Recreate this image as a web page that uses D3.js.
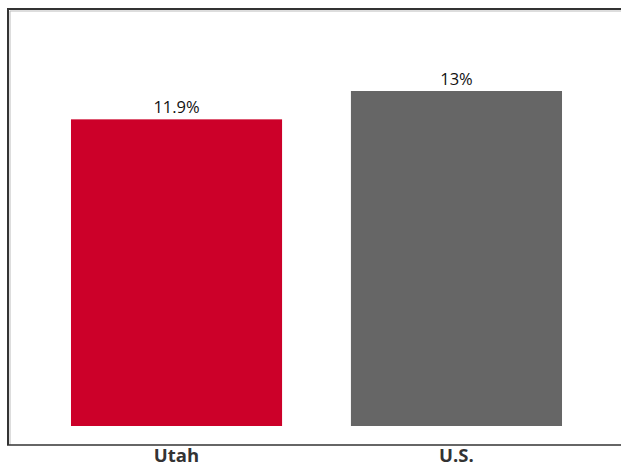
<!DOCTYPE html>
<html><head><meta charset="utf-8">
<script src="https://cdn.jsdelivr.net/npm/d3@7"></script>
<style>body{margin:0;background:#fff;}svg{display:block;}</style>
</head><body>
<script>
const categories = ["Utah", "U.S."];
const values = [11.9, 13];
const valueLabels = ["11.9%", "13%"];
const colors = ["#cc0029", "#666666"];

const W = 621, H = 467;
const svg = d3.select("body").append("svg").attr("width", W).attr("height", H);

const x = d3.scaleBand().domain(categories).range([8, 625]).paddingInner(0.246).paddingOuter(0.225);
const y = d3.scaleLinear().domain([0, 16]).range([426, 13.7]);

// frame
svg.append("path").attr("d", "M8,445 L8,9 L630,9").attr("fill", "none").attr("stroke", "#333").attr("stroke-width", 2);
svg.append("path").attr("d", "M10,445 L10,11 L630,11").attr("fill", "none").attr("stroke", "#bbb").attr("stroke-width", 1);
svg.append("line").attr("x1", 7).attr("x2", 630).attr("y1", 445).attr("y2", 445).attr("stroke", "#333").attr("stroke-width", 1.5);

svg.selectAll("rect.bar").data(categories).enter().append("rect")
  .attr("class", "bar")
  .attr("x", d => x(d)).attr("width", x.bandwidth())
  .attr("y", (d, i) => y(values[i])).attr("height", (d, i) => y(0) - y(values[i]))
  .attr("fill", (d, i) => colors[i]);

svg.selectAll("text.val").data(categories).enter().append("text")
  .attr("class", "val")
  .attr("x", d => x(d) + x.bandwidth() / 2)
  .attr("y", (d, i) => y(values[i]) - 6)
  .attr("text-anchor", "middle")
  .attr("font-family", "Open Sans, sans-serif").attr("font-size", 16.5).attr("fill", "#111")
  .text((d, i) => valueLabels[i]);

const xAxis = d3.axisBottom(x).tickSize(0).tickPadding(0);
const g = svg.append("g").attr("transform", "translate(0,462)").call(xAxis);
g.select(".domain").remove();
g.selectAll("text").attr("font-family", "Open Sans, sans-serif").attr("font-size", 18.5)
  .attr("font-weight", "bold").attr("fill", "#333").attr("dy", "0");
</script>
</body></html>
